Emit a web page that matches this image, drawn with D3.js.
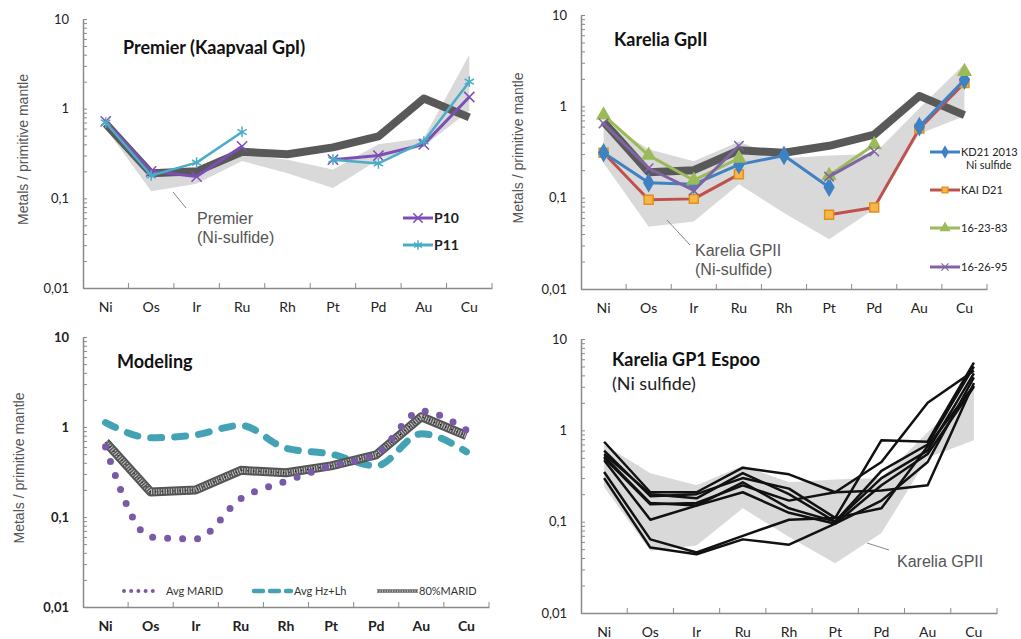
<!DOCTYPE html>
<html>
<head>
<meta charset="utf-8">
<script src="https://cdn.jsdelivr.net/npm/d3@7"></script>
<style>
  body { margin: 0; background: #fff; }
  svg { display: block; }
  text { font-family: Lato, "Open Sans", sans-serif; }
</style>
</head>
<body>
<div id="chart"></div>
<script>
// x categories (metals) and y decades
const elements = ["Ni", "Os", "Ir", "Ru", "Rh", "Pt", "Pd", "Au", "Cu"];
const decadeTicks = [0.01, 0.1, 1, 10];
const decadeLabels = ["0,01", "0,1", "1", "10"];

// thick grey model line (80% MARID), reused in three panels
const marid80 = [0.68, 0.19, 0.2, 0.33, 0.31, 0.37, 0.49, 1.3, 0.8];

// Premier panel
const premierHigh = [0.74, 0.21, 0.2, 0.31, 0.27, 0.21, 0.4, 0.47, 4.0];
const premierLow  = [0.6, 0.12, 0.145, 0.26, 0.19, 0.13, 0.27, 0.38, 0.95];
const p10 = [0.72, 0.2, 0.175, 0.38, null, 0.27, 0.3, 0.4, 1.35];
const p11 = [0.7, 0.18, 0.25, 0.55, null, 0.27, 0.245, 0.43, 2.0];

// Karelia GPII band (used in panels 2 and 4)
const kareliaHigh = [0.7, 0.34, 0.25, 0.41, 0.27, 0.29, 0.3, 0.95, 2.9];
const kareliaLow  = [0.24, 0.048, 0.055, 0.14, 0.068, 0.035, 0.075, 0.5, 0.78];

// Karelia GpII samples
const kd21 = [0.31, 0.146, 0.14, 0.23, 0.29, 0.13, null, 0.6, 1.95];
const kaiD21 = [0.31, 0.095, 0.097, 0.18, null, 0.065, 0.078, 0.57, 1.8];
const s162383 = [0.8, 0.29, 0.155, 0.27, null, 0.175, 0.38, null, 2.4];
const s162695 = [0.65, 0.21, 0.12, 0.37, null, 0.17, 0.32, null, null];

// Modeling panel
const avgMarid = [0.6, 0.06, 0.057, 0.16, 0.25, 0.37, 0.5, 1.5, 0.92];
const avgHzLh = [1.12, 0.76, 0.82, 1.04, 0.58, 0.5, 0.37, 0.84, 0.53];

// Karelia GP1 Espoo samples
const espoo1 = [0.75, 0.21, 0.21, 0.39, 0.33, 0.21, 0.45, 2.0, 4.5];
const espoo2 = [0.6, 0.19, 0.2, 0.3, 0.23, 0.11, 0.78, 0.75, 5.5];
const espoo3 = [0.55, 0.2, 0.18, 0.34, 0.2, 0.1, 0.36, 0.7, 5.0];
const espoo4 = [0.52, 0.16, 0.15, 0.27, 0.14, 0.1, 0.3, 0.6, 4.2];
const espoo5 = [0.5, 0.155, 0.16, 0.25, 0.17, 0.21, 0.22, 0.25, 3.3];
const espoo6 = [0.47, 0.105, 0.15, 0.21, 0.125, 0.095, 0.17, 0.45, 3.8];
const espoo7 = [0.35, 0.064, 0.046, 0.07, 0.105, 0.11, 0.14, 0.67, 3.1];
const espoo8 = [0.3, 0.052, 0.044, 0.064, 0.056, 0.095, 0.25, 0.55, 3.0];
const espooSeries = [espoo1, espoo2, espoo3, espoo4, espoo5, espoo6, espoo7, espoo8];

// log minor ticks 1..9 per decade
const minorTicks = [];
[0.01, 0.1, 1].forEach(d => { for (let k = 1; k < 10; k++) minorTicks.push(k * d); });
minorTicks.push(10);

const svg = d3.select("#chart").append("svg")
    .attr("width", 1021)
    .attr("height", 639);

function makePanel(p) {
    const x = d3.scaleBand().domain(elements).range([p.x0, p.x1]);
    const y = d3.scaleLog().domain([0.01, 10]).range([p.yBot, p.yTop]);
    const cx = e => x(e) + x.bandwidth() / 2;
    const g = svg.append("g");

    // y axis, ticks pointing inwards
    const ya = g.append("g")
        .attr("transform", `translate(${p.x0},0)`)
        .call(d3.axisLeft(y).tickValues(minorTicks).tickSize(-4).tickSizeOuter(0).tickPadding(14)
            .tickFormat(v => { const i = decadeTicks.indexOf(v); return i < 0 ? "" : decadeLabels[i]; }));
    ya.select(".domain").attr("stroke", "#8a8a8a").attr("stroke-width", 1.5);
    ya.selectAll(".tick line").attr("stroke", "#8a8a8a");
    ya.selectAll("text").style("font-size", "13px").style("fill", "#222")
        .style("font-weight", p.bold ? "bold" : "normal");

    // x axis with labels, no ticks
    const xa = g.append("g")
        .attr("transform", `translate(0,${p.yBot})`)
        .call(d3.axisBottom(x).tickSize(0).tickPadding(14));
    xa.select(".domain").attr("stroke", "#8a8a8a").attr("stroke-width", 1.5);
    xa.selectAll("text").style("font-size", "14px").style("fill", "#222")
        .style("font-weight", p.bold ? "bold" : "normal");
    // small upward ticks at category boundaries
    g.append("g").selectAll("line")
        .data(elements)
        .enter().append("line")
        .attr("x1", d => x(d) + x.bandwidth())
        .attr("x2", d => x(d) + x.bandwidth())
        .attr("y1", p.yBot)
        .attr("y2", p.yBot - 5)
        .attr("stroke", "#8a8a8a");

    if (p.yLabel) {
        g.append("text")
            .attr("transform", `translate(${p.yLabelX},${(p.yTop + p.yBot) / 2 - 4}) rotate(-90)`)
            .attr("text-anchor", "middle")
            .attr("dy", "0.35em")
            .style("font-family", "'Liberation Sans', Arial, sans-serif")
            .style("font-size", "14px")
            .style("fill", "#555")
            .text("Metals / primitive mantle");
    }
    return { x, y, cx, g };
}

function toPoints(vals) {
    return vals.map((v, i) => ({ e: elements[i], v }));
}

function drawBand(P, high, low) {
    const area = d3.area()
        .x(d => P.cx(d.e))
        .y0(d => P.y(d.lo))
        .y1(d => P.y(d.hi));
    P.g.append("path")
        .datum(elements.map((e, i) => ({ e, hi: high[i], lo: low[i] })))
        .attr("d", area)
        .attr("fill", "#d9d9d9");
}

function drawLine(P, vals, style, curve) {
    const line = d3.line()
        .defined(d => d.v != null)
        .x(d => P.cx(d.e))
        .y(d => P.y(d.v))
        .curve(curve || d3.curveLinear);
    const path = P.g.append("path")
        .datum(toPoints(vals))
        .attr("d", line)
        .attr("fill", "none")
        .attr("stroke-linejoin", "round");
    Object.entries(style).forEach(([k, v]) => path.attr(k, v));
    return path;
}

function drawMarkers(P, vals, type, size, fill, stroke, sw) {
    P.g.append("g").selectAll("path")
        .data(toPoints(vals).filter(d => d.v != null))
        .enter().append("path")
        .attr("transform", d => `translate(${P.cx(d.e)},${P.y(d.v)})`)
        .attr("d", d3.symbol().type(type).size(size))
        .attr("fill", fill)
        .attr("stroke", stroke)
        .attr("stroke-width", sw);
}

function drawMarid80(P, vals) {
    drawLine(P, vals, { stroke: "#555", "stroke-width": 9 });
    drawLine(P, vals, { stroke: "#c4c4c4", "stroke-width": 5, "stroke-dasharray": "1 1.5" });
    drawLine(P, vals, { stroke: "#111", "stroke-width": 1.3, "stroke-dasharray": "1 5" });
}

function addText(g, x, y, str, size, opts) {
    const o = opts || {};
    return g.append("text")
        .attr("x", x).attr("y", y)
        .style("font-size", size + "px")
        .style("font-weight", o.bold ? "bold" : "normal")
        .style("fill", o.fill || "#111")
        .style("font-family", o.family || null)
        .text(str);
}

function leader(g, x1, y1, x2, y2) {
    g.append("line")
        .attr("x1", x1).attr("y1", y1).attr("x2", x2).attr("y2", y2)
        .attr("stroke", "#888").attr("stroke-width", 1);
}

const arial = "'Liberation Sans', Arial, sans-serif";

// ---------- Panel 1: Premier ----------
const P1 = makePanel({ x0: 83, x1: 492, yTop: 19, yBot: 288, yLabel: true, yLabelX: 23 });
drawBand(P1, premierHigh, premierLow);
drawLine(P1, marid80, { stroke: "#595959", "stroke-width": 8 });
drawLine(P1, p10, { stroke: "#7d4fb5", "stroke-width": 3 });
drawMarkers(P1, p10, d3.symbolTimes, 70, "none", "#7d4fb5", 1.5);
drawLine(P1, p11, { stroke: "#4bacc6", "stroke-width": 2.5 });
drawMarkers(P1, p11, d3.symbolAsterisk, 80, "none", "#4bacc6", 1.5);
addText(P1.g, 123, 54, "Premier (Kaapvaal GpI)", 18, { bold: true });
addText(P1.g, 197, 224, "Premier", 16, { fill: "#555", family: arial });
addText(P1.g, 197, 243, "(Ni-sulfide)", 16, { fill: "#555", family: arial });
leader(P1.g, 173, 192, 186, 208);
// legend
[[p10, "#7d4fb5", d3.symbolTimes, "P10", 218], [p11, "#4bacc6", d3.symbolAsterisk, "P11", 245]]
    .forEach(([vals, col, sym, name, ly]) => {
        P1.g.append("line").attr("x1", 403).attr("x2", 433).attr("y1", ly).attr("y2", ly)
            .attr("stroke", col).attr("stroke-width", 3);
        P1.g.append("path").attr("transform", `translate(418,${ly})`)
            .attr("d", d3.symbol().type(sym).size(60)).attr("fill", "none")
            .attr("stroke", col).attr("stroke-width", 1.5);
        addText(P1.g, 434, ly + 5, name, 14, { bold: true, fill: "#222" });
    });

// ---------- Panel 2: Karelia GpII ----------
const P2 = makePanel({ x0: 581, x1: 987, yTop: 15, yBot: 289, yLabel: true, yLabelX: 518 });
drawBand(P2, kareliaHigh, kareliaLow);
drawLine(P2, marid80, { stroke: "#595959", "stroke-width": 8 });
const kSeries = [
    { vals: kaiD21, col: "#c0504d", sym: d3.symbolSquare, size: 80, fill: "#f8b64a", mstroke: "#e0901a", name: "KAI D21", ly: 190 },
    { vals: kd21, col: "#3f82c4", sym: d3.symbolDiamond, size: 80, fill: "#3f82c4", mstroke: "#3f82c4", name: "KD21 2013", ly: 152 },
    { vals: s162383, col: "#9bbb59", sym: d3.symbolTriangle, size: 70, fill: "#9bbb59", mstroke: "#9bbb59", name: "16-23-83", ly: 228 },
    { vals: s162695, col: "#8064a2", sym: d3.symbolTimes, size: 60, fill: "none", mstroke: "#8064a2", name: "16-26-95", ly: 267 }
];
kSeries.forEach(s => {
    drawLine(P2, s.vals, { stroke: s.col, "stroke-width": 3 });
    drawMarkers(P2, s.vals, s.sym, s.size, s.fill, s.mstroke, 1.5);
});
kSeries.forEach(s => {
    P2.g.append("line").attr("x1", 930).attr("x2", 960).attr("y1", s.ly).attr("y2", s.ly)
        .attr("stroke", s.col).attr("stroke-width", 3);
    P2.g.append("path").attr("transform", `translate(945,${s.ly})`)
        .attr("d", d3.symbol().type(s.sym).size(35)).attr("fill", s.fill)
        .attr("stroke", s.mstroke).attr("stroke-width", 1.2);
    addText(P2.g, 961, s.ly + 4, s.name, 11, { fill: "#222" });
});
addText(P2.g, 966, 169, "Ni sulfide", 11, { fill: "#222" });
addText(P2.g, 614, 46, "Karelia GpII", 18, { bold: true });
addText(P2.g, 695, 256, "Karelia GPII", 16, { fill: "#555", family: arial });
addText(P2.g, 695, 275, "(Ni-sulfide)", 16, { fill: "#555", family: arial });
leader(P2.g, 667, 220, 690, 245);

// ---------- Panel 3: Modeling ----------
const P3 = makePanel({ x0: 83, x1: 489, yTop: 337, yBot: 607, yLabel: true, yLabelX: 19, bold: true });
drawLine(P3, avgHzLh, { stroke: "#43a3b5", "stroke-width": 7, "stroke-linecap": "round", "stroke-dasharray": "11 13" }, d3.curveMonotoneX);
drawMarid80(P3, marid80);
drawLine(P3, avgMarid, { stroke: "#7a5aa6", "stroke-width": 7, "stroke-linecap": "round", "stroke-dasharray": "0 15" }, d3.curveMonotoneX);
addText(P3.g, 117, 368, "Modeling", 18, { bold: true });
// legend
const lg3 = P3.g.append("g");
lg3.append("line").attr("x1", 124).attr("x2", 158).attr("y1", 591).attr("y2", 591)
    .attr("stroke", "#7a5aa6").attr("stroke-width", 4).attr("stroke-linecap", "round").attr("stroke-dasharray", "0 7.2");
addText(lg3, 166, 595, "Avg MARID", 11, { fill: "#333" });
lg3.append("line").attr("x1", 254).attr("x2", 291).attr("y1", 591).attr("y2", 591)
    .attr("stroke", "#43a3b5").attr("stroke-width", 4.5).attr("stroke-linecap", "round").attr("stroke-dasharray", "9 7");
addText(lg3, 294, 595, "Avg Hz+Lh", 11, { fill: "#333" });
lg3.append("line").attr("x1", 377).attr("x2", 418).attr("y1", 591).attr("y2", 591)
    .attr("stroke", "#666").attr("stroke-width", 3.5);
lg3.append("line").attr("x1", 377).attr("x2", 418).attr("y1", 591).attr("y2", 591)
    .attr("stroke", "#ccc").attr("stroke-width", 1.5).attr("stroke-dasharray", "1 1.5");
addText(lg3, 419, 595, "80%MARID", 11, { fill: "#333" });

// ---------- Panel 4: Karelia GP1 Espoo ----------
const P4 = makePanel({ x0: 581, x1: 997, yTop: 339, yBot: 613, yLabel: false });
drawBand(P4, kareliaHigh, kareliaLow);
espooSeries.forEach(s => drawLine(P4, s, { stroke: "#111", "stroke-width": 2.5 }));
addText(P4.g, 612, 366, "Karelia GP1 Espoo", 18, { bold: true });
addText(P4.g, 612, 390, "(Ni sulfide)", 18, { fill: "#222" });
addText(P4.g, 897, 567, "Karelia GPII", 16, { fill: "#555", family: arial });
leader(P4.g, 867, 543, 889, 550);
</script>
</body>
</html>
